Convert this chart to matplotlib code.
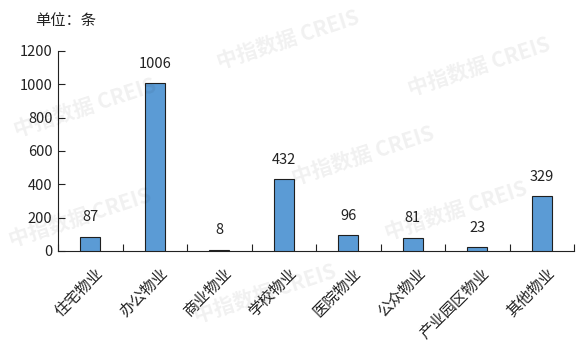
import matplotlib
matplotlib.use("Agg")
import matplotlib.pyplot as plt

plt.rcParams['font.family'] = ['Noto Sans CJK SC', 'DejaVu Sans']

categories = ["住宅物业", "办公物业", "商业物业", "学校物业", "医院物业", "公众物业", "产业园区物业", "其他物业"]
counts = [87, 1006, 8, 432, 96, 81, 23, 329]
y_ticks = [0, 200, 400, 600, 800, 1000, 1200]
unit_label = "单位：条"
watermark = "中指数据 CREIS"

fig = plt.figure(figsize=(5.79, 3.43), dpi=100)
ax = fig.add_axes([58 / 579, 1 - 251 / 343, (574 - 58) / 579, 200 / 343])

# faint watermarks behind the chart
wm_spots = [(0.37, 0.80), (0.70, 0.72), (0.02, 0.60), (0.66, 0.30), (0.01, 0.28),
            (0.33, 0.06), (0.50, 0.46)]
for wx, wy in wm_spots:
    fig.text(wx, wy, watermark, fontsize=15, fontweight='bold', color='#000000',
             alpha=0.06, rotation=18, zorder=0)

x = range(len(categories))
ax.bar(x, counts, width=0.31, color='#5B9BD5', edgecolor='#1f1f1f', linewidth=0.8, zorder=3)
for i, v in enumerate(counts):
    ax.annotate(str(v), (i, v), xytext=(0, 9), textcoords='offset points',
                ha='center', va='bottom', fontsize=10.5, color='#222222')

ax.set_xlim(-0.5, len(categories) - 0.5)
ax.set_ylim(0, 1200)
ax.set_yticks(y_ticks)
ax.tick_params(axis='y', direction='in', length=5, labelsize=10.5, colors='#222222', pad=4)
ax.set_xticks([i + 0.5 for i in range(-1, len(categories))])
ax.set_xticklabels([])
ax.tick_params(axis='x', direction='in', length=5, colors='#222222')
for i, c in enumerate(categories):
    ax.annotate(c, (i, 0), xytext=(3, -10), textcoords='offset points',
                rotation=45, rotation_mode='anchor', ha='right', va='top',
                fontsize=11, color='#222222')

for s in ['top', 'right']:
    ax.spines[s].set_visible(False)
ax.spines['left'].set_color('#222222')
ax.spines['bottom'].set_color('#222222')
ax.patch.set_alpha(0)

fig.text(35 / 579, 1 - 20 / 343, unit_label, fontsize=11, color='#222222', va='center')

fig.savefig("out.png", dpi=100)
